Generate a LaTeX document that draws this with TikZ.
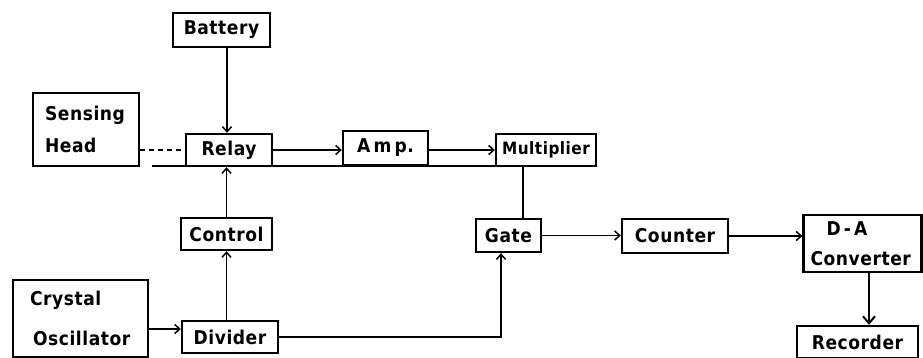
\documentclass[tikz,border=0pt]{standalone}
\usepackage{fontspec}
\setmainfont{DejaVu Sans Condensed}[LetterSpace=3]
\usetikzlibrary{arrows.meta}
\begin{document}
\begin{tikzpicture}[x=1pt,y=-1pt,
  blk/.style={draw, line width=2.4pt, inner sep=0pt, font=\fontsize{19}{23}\selectfont\bfseries},
  multi/.style={blk, align=left, font=\fontsize{19}{32}\selectfont\bfseries},
  conn/.style={line width=1.6pt},
  arr/.style={conn, -{Straight Barb[length=5pt,width=9pt,line width=1.5pt]}},
  bigarr/.style={line width=2.2pt, -{Straight Barb[length=7pt,width=12pt,line width=2pt]}}
]
\useasboundingbox (0,0) rectangle (923,358);
% blocks
\node[blk, minimum width=97pt, minimum height=34pt] (battery) at (221.5,30) {Battery};
\node[multi, text width=82pt, inner xsep=12pt, minimum height=73pt] (sensing) at (86,129.5) {Sensing\\Head};
\node[blk, minimum width=86pt, minimum height=32pt] (relay) at (229,150) {Relay};
\node[blk, minimum width=85pt, minimum height=34pt] (amp) at (385.5,148) {A\,m\,p.};
\node[blk, minimum width=100pt, minimum height=32pt, font=\fontsize{17}{20}\selectfont\bfseries] (mult) at (546,150) {Multiplier};
\node[blk, minimum width=91pt, minimum height=32pt] (control) at (226.5,234) {Control};
\node[blk, minimum width=65pt, minimum height=33pt] (gate) at (508.5,235.5) {Gate};
\node[blk, minimum width=106pt, minimum height=34pt] (counter) at (675,236) {Counter};
\node[multi, text width=104pt, inner xsep=7pt, minimum height=57pt, font=\fontsize{19}{30}\selectfont\bfseries] (da) at (862.5,243.5) {\hspace{16pt}D\,-\,A\\Converter};
\node[multi, text width=101pt, inner xsep=17pt, minimum height=77pt, font=\fontsize{19}{40}\selectfont\bfseries] (osc) at (80.5,318.5) {Crystal\\\hspace{3pt}Oscillator};
\node[blk, minimum width=96pt, minimum height=32pt] (divider) at (230,337) {Divider};
\node[blk, minimum width=121pt, minimum height=32pt] (recorder) at (857.5,342) {Recorder};
% helper coordinates
\coordinate (xa) at (227,0);
\coordinate (xg) at (523,0);
\coordinate (xd) at (501,0);
\coordinate (xr) at (869,0);
\coordinate (yo) at (0,329);
\coordinate (busL) at (152,166);
\coordinate (busR) at (597,166);
% bus line
\draw[line width=2.2pt] (busL) -- (busR);
% connectors
\draw[arr] (battery.south -| xa) -- (relay.north -| xa);
\draw[conn, dash pattern=on 5pt off 4pt] (sensing.east |- relay.west) -- (relay.west);
\draw[arr] (relay.east) -- (relay.east -| amp.west);
\draw[arr] (mult.west -| amp.east) -- (mult.west);
\draw[conn] (mult.south -| xg) -- (gate.north -| xg);
\draw[arr] (control.north) -- (relay.south -| control.north);
\draw[arr] (divider.north -| control.south) -- (control.south);
\draw[arr] (osc.east |- yo) -- (divider.west |- yo);
\draw[arr] (divider.east) -| (xd |- gate.south);
\draw[arr] (gate.east) -- (gate.east -| counter.west);
\draw[arr] (counter.east) -- (counter.east -| da.west);
\draw[bigarr] (da.south -| xr) -- (recorder.north -| xr);
\end{tikzpicture}
\end{document}
